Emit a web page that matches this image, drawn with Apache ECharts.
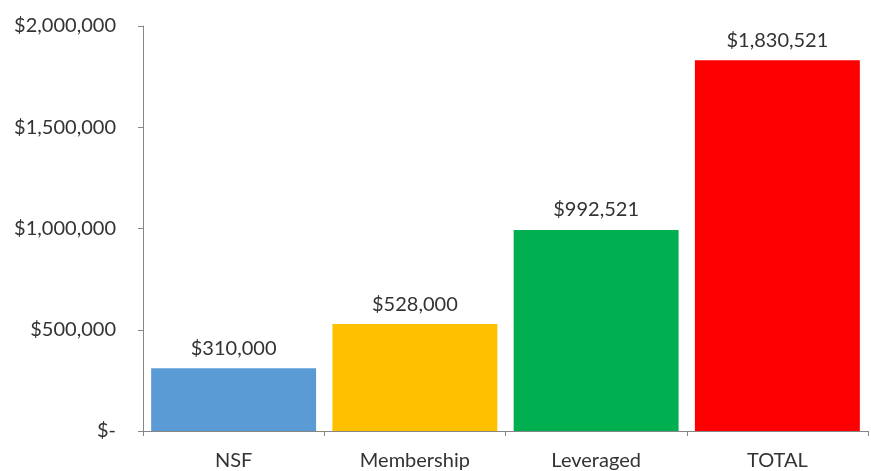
<!DOCTYPE html>
<html>
<head>
<meta charset="utf-8">
<script src="https://cdn.jsdelivr.net/npm/echarts@6/dist/echarts.min.js"></script>
<style>
  html, body { margin: 0; padding: 0; background: #ffffff; }
  #chart { width: 871px; height: 471px; }
</style>
</head>
<body>
<div id="chart"></div>
<script>
// Funding sources and their totals
const categories = ['NSF', 'Membership', 'Leveraged', 'TOTAL'];
const amounts = [310000, 528000, 992521, 1830521];
const barColors = ['#5B9BD5', '#FFC000', '#00B050', '#FF0000'];
const yTicks = { min: 0, max: 2000000, interval: 500000 };

const FONT = 'Lato, "Noto Sans", sans-serif';
const TEXT = '#333333';
const AXIS = '#868686';

function money(v) {
  if (v === 0) return '$-';
  return '$' + v.toString().replace(/\B(?=(\d{3})+(?!\d))/g, ',');
}

const chart = echarts.init(document.getElementById('chart'), null, { renderer: 'canvas' });
chart.setOption({
  backgroundColor: '#ffffff',
  animation: false,
  grid: { left: 143, right: 3, top: 26, bottom: 39, containLabel: false },
  xAxis: {
    type: 'category',
    data: categories,
    axisLine: { show: true, lineStyle: { color: AXIS, width: 1 } },
    axisTick: { show: true, alignWithLabel: false, length: 5, lineStyle: { color: AXIS } },
    axisLabel: { color: TEXT, fontFamily: FONT, fontSize: 20, margin: 20 }
  },
  yAxis: {
    type: 'value',
    min: yTicks.min,
    max: yTicks.max,
    interval: yTicks.interval,
    axisLine: { show: true, lineStyle: { color: AXIS, width: 1 } },
    axisTick: { show: true, length: 5, lineStyle: { color: AXIS } },
    splitLine: { show: false },
    axisLabel: { color: TEXT, fontFamily: FONT, fontSize: 20, margin: 27, formatter: money }
  },
  series: [{
    type: 'bar',
    data: amounts.map((v, i) => ({ value: v, itemStyle: { color: barColors[i] } })),
    barCategoryGap: '9%',
    label: {
      show: true,
      position: 'top',
      distance: 10,
      color: TEXT,
      fontFamily: FONT,
      fontSize: 20,
      formatter: p => money(p.value)
    }
  }]
});
</script>
</body>
</html>
